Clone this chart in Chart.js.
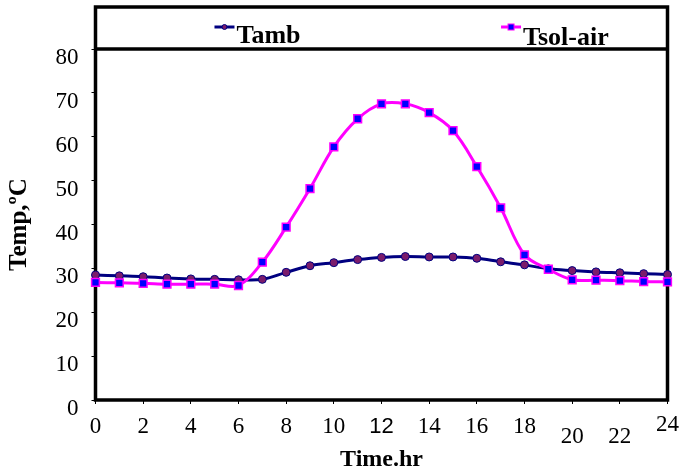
<!DOCTYPE html>
<html>
<head>
<meta charset="utf-8">
<script src="https://cdn.jsdelivr.net/npm/chart.js@4.4.0/dist/chart.umd.min.js"></script>
<style>
  html, body { margin: 0; padding: 0; background: #fff; }
  canvas { display: block; }
</style>
</head>
<body>
<canvas id="tempChart" width="689" height="473"></canvas>
<script>
// hourly values
const hours = [0, 1, 2, 3, 4, 5, 6, 7, 8, 9, 10, 11, 12, 13, 14, 15, 16, 17, 18, 19, 20, 21, 22, 23, 24];
const tambValues = [28.5, 28.3, 28.1, 27.8, 27.6, 27.5, 27.4, 27.5, 29.1, 30.6, 31.3, 32.0, 32.5, 32.7, 32.6, 32.6, 32.3, 31.5, 30.8, 29.9, 29.5, 29.2, 29.0, 28.8, 28.6];
const tsolValues = [26.8, 26.7, 26.6, 26.4, 26.4, 26.4, 26.1, 31.4, 39.4, 48.2, 57.7, 64.1, 67.5, 67.5, 65.5, 61.4, 53.2, 43.8, 33.1, 29.8, 27.4, 27.3, 27.2, 27.0, 26.9];
const seriesNames = ["Tamb", "Tsol-air"];

const serif = "'Liberation Serif', 'Times New Roman', serif";

// frame around plot + legend box, and the legend items inside it
const boxedLegend = {
  id: "boxedLegend",
  beforeDatasetsDraw(chart, args, opts) {
    const { ctx, chartArea: a } = chart;
    ctx.save();
    ctx.strokeStyle = "#000";
    ctx.lineWidth = 3.5;
    ctx.strokeRect(a.left, opts.top, a.right - a.left, a.bottom - opts.top);
    ctx.beginPath();
    ctx.moveTo(a.left, a.top);
    ctx.lineTo(a.right, a.top);
    ctx.stroke();
    ctx.restore();
  },
  afterDraw(chart, args, opts) {
    const { ctx, chartArea: a } = chart;
    ctx.save();
    chart.data.datasets.forEach((ds, i) => {
      const x = a.left + (a.right - a.left) * opts.itemAt[i];
      const y = opts.lineY;

      ctx.strokeStyle = ds.borderColor;
      ctx.lineWidth = 3;
      ctx.beginPath();
      ctx.moveTo(x, y);
      ctx.lineTo(x + 20, y);
      ctx.stroke();

      ctx.fillStyle = ds.pointBackgroundColor;
      ctx.strokeStyle = ds.pointBorderColor;
      ctx.lineWidth = 1;
      if (ds.pointStyle === "rect") {
        ctx.fillRect(x + 7, y - 3, 6, 6);
        ctx.strokeRect(x + 7, y - 3, 6, 6);
      } else {
        ctx.beginPath();
        ctx.arc(x + 10, y, 2.5, 0, Math.PI * 2);
        ctx.fill();
        ctx.stroke();
      }

      ctx.fillStyle = "#000";
      ctx.font = "bold 26px " + serif;
      ctx.textBaseline = "alphabetic";
      ctx.fillText(ds.label, x + 22, opts.textY[i]);
    });
    ctx.restore();
  }
};

// the x labels in the figure are not all alike: 12 is sans, 20/22 sit lower
function tickFont(c) {
  const v = c.tick ? c.tick.value : null;
  if (v === 12) return { family: "'Liberation Sans', Arial, sans-serif", size: 22 };
  if (v === 20 || v === 22) return { family: serif, size: 23, lineHeight: 2.0 };
  if (v === 24) return { family: serif, size: 23, lineHeight: 0.95 };
  return { family: serif, size: 23, lineHeight: 1.15 };
}

const ctx = document.getElementById("tempChart");

new Chart(ctx, {
  type: "line",
  data: {
    datasets: [
      {
        label: seriesNames[0],
        data: hours.map((h, i) => ({ x: h, y: tambValues[i] })),
        borderColor: "#000080",
        borderWidth: 3,
        pointStyle: "circle",
        pointRadius: 4,
        pointBorderWidth: 1,
        pointBackgroundColor: "#7b1c6b",
        pointBorderColor: "#000080",
        tension: 0.35,
        clip: false,
        order: 1
      },
      {
        label: seriesNames[1],
        data: hours.map((h, i) => ({ x: h, y: tsolValues[i] })),
        borderColor: "#ff00ff",
        borderWidth: 3,
        pointStyle: "rect",
        pointRadius: 5.5,
        pointBorderWidth: 1.5,
        pointBackgroundColor: "#0000ff",
        pointBorderColor: "#ff00ff",
        tension: 0.35,
        clip: false,
        order: 0
      }
    ]
  },
  options: {
    responsive: false,
    animation: false,
    layout: {
      padding: { top: 49, right: 19, left: 0, bottom: 0 }
    },
    plugins: {
      legend: { display: false },
      tooltip: { enabled: false },
      boxedLegend: {
        top: 7,
        lineY: 27,
        textY: [43, 45],
        itemAt: [0.208, 0.709]
      }
    },
    scales: {
      x: {
        type: "linear",
        min: 0,
        max: 24,
        border: { display: false },
        grid: {
          display: true,
          drawOnChartArea: false,
          drawTicks: true,
          tickLength: 4,
          color: "#000",
          lineWidth: 1
        },
        ticks: {
          stepSize: 2,
          maxRotation: 0,
          autoSkip: false,
          padding: 10,
          color: "#000",
          font: tickFont
        },
        title: {
          display: true,
          text: "Time.hr",
          color: "#000",
          font: { family: serif, size: 24, weight: "bold", lineHeight: 1 },
          padding: { top: 0, bottom: 1 }
        },
        afterFit: s => { s.height = 73; }
      },
      y: {
        min: 0,
        max: 80,
        border: { display: false },
        grid: {
          display: true,
          drawOnChartArea: false,
          drawTicks: true,
          tickLength: 4,
          color: "#000",
          lineWidth: 1
        },
        ticks: {
          stepSize: 10,
          padding: 13,
          labelOffset: 9,
          color: "#000",
          font: { family: serif, size: 23 }
        },
        title: {
          display: true,
          text: "Temp,ºC",
          color: "#000",
          font: { family: serif, size: 25, weight: "bold", lineHeight: 1 },
          padding: { top: 7.5, bottom: 0 }
        },
        afterFit: s => { s.width = 95.5; }
      }
    }
  },
  plugins: [boxedLegend]
});
</script>
</body>
</html>
